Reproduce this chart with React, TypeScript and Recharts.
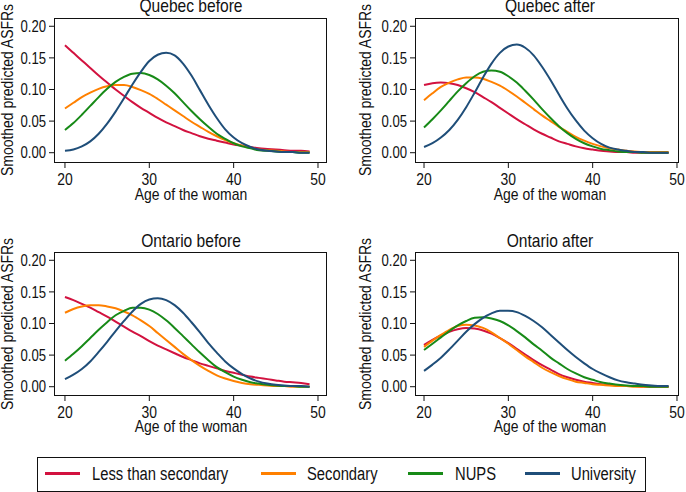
import React from 'react';
import { LineChart, Line, XAxis, YAxis } from 'recharts';

// Age of the woman, one point per year
const AGES = [20, 21, 22, 23, 24, 25, 26, 27, 28, 29, 30, 31, 32, 33, 34, 35, 36, 37, 38, 39, 40, 41, 42, 43, 44, 45, 46, 47, 48, 49];

const X_TICKS = [20, 30, 40, 50];
const Y_TICKS = [0, 0.05, 0.1, 0.15, 0.2];

const SERIES_NAMES = ['Less than secondary', 'Secondary', 'NUPS', 'University'];
const SERIES_COLORS = ['#D2123F', '#FF8000', '#178A17', '#1F4E79'];

// ── Quebec before ──
const QC_BEFORE_LESS = [0.170, 0.158, 0.146, 0.134, 0.122, 0.111, 0.100, 0.090, 0.080, 0.071, 0.063, 0.055, 0.048, 0.042, 0.036, 0.031, 0.026, 0.022, 0.019, 0.016, 0.013, 0.011, 0.009, 0.007, 0.006, 0.005, 0.004, 0.003, 0.003, 0.002];
const QC_BEFORE_SEC = [0.070, 0.079, 0.088, 0.095, 0.101, 0.105, 0.107, 0.107, 0.104, 0.099, 0.093, 0.085, 0.076, 0.067, 0.058, 0.049, 0.041, 0.033, 0.026, 0.020, 0.015, 0.011, 0.008, 0.005, 0.004, 0.003, 0.002, 0.001, 0.001, 0.001];
const QC_BEFORE_NUPS = [0.036, 0.047, 0.060, 0.074, 0.088, 0.101, 0.112, 0.120, 0.125, 0.126, 0.123, 0.116, 0.106, 0.094, 0.080, 0.066, 0.053, 0.041, 0.030, 0.022, 0.015, 0.010, 0.007, 0.004, 0.003, 0.002, 0.001, 0.001, 0.000, 0.000];
const QC_BEFORE_UNIV = [0.003, 0.005, 0.010, 0.018, 0.030, 0.046, 0.065, 0.086, 0.108, 0.128, 0.145, 0.155, 0.158, 0.154, 0.141, 0.122, 0.099, 0.076, 0.055, 0.037, 0.024, 0.015, 0.009, 0.005, 0.003, 0.002, 0.001, 0.001, 0.000, 0.000];

// ── Quebec after ──
const QC_AFTER_LESS = [0.107, 0.110, 0.111, 0.110, 0.107, 0.102, 0.096, 0.088, 0.080, 0.071, 0.062, 0.053, 0.045, 0.037, 0.030, 0.024, 0.018, 0.014, 0.010, 0.007, 0.005, 0.003, 0.002, 0.001, 0.001, 0.000, 0.000, 0.000, 0.000, 0.000];
const QC_AFTER_SEC = [0.083, 0.094, 0.104, 0.111, 0.116, 0.119, 0.119, 0.117, 0.112, 0.106, 0.098, 0.089, 0.079, 0.069, 0.059, 0.050, 0.041, 0.033, 0.025, 0.019, 0.014, 0.010, 0.007, 0.005, 0.003, 0.002, 0.001, 0.001, 0.001, 0.001];
const QC_AFTER_NUPS = [0.040, 0.053, 0.067, 0.082, 0.097, 0.110, 0.121, 0.128, 0.130, 0.128, 0.121, 0.111, 0.098, 0.084, 0.069, 0.055, 0.042, 0.031, 0.022, 0.015, 0.010, 0.006, 0.004, 0.002, 0.001, 0.001, 0.000, 0.000, 0.000, 0.000];
const QC_AFTER_UNIV = [0.009, 0.015, 0.024, 0.036, 0.052, 0.072, 0.095, 0.119, 0.141, 0.158, 0.168, 0.171, 0.166, 0.154, 0.136, 0.115, 0.092, 0.070, 0.051, 0.035, 0.023, 0.014, 0.008, 0.005, 0.003, 0.001, 0.001, 0.000, 0.000, 0.000];

// ── Ontario before ──
const ON_BEFORE_LESS = [0.142, 0.137, 0.131, 0.125, 0.118, 0.111, 0.103, 0.095, 0.087, 0.080, 0.072, 0.065, 0.059, 0.053, 0.047, 0.042, 0.037, 0.033, 0.029, 0.025, 0.022, 0.019, 0.016, 0.014, 0.012, 0.010, 0.008, 0.007, 0.006, 0.004];
const ON_BEFORE_SEC = [0.117, 0.123, 0.127, 0.129, 0.129, 0.127, 0.124, 0.119, 0.113, 0.105, 0.096, 0.085, 0.074, 0.063, 0.052, 0.042, 0.033, 0.025, 0.018, 0.013, 0.009, 0.006, 0.004, 0.003, 0.002, 0.001, 0.001, 0.000, 0.000, 0.000];
const ON_BEFORE_NUPS = [0.041, 0.052, 0.064, 0.077, 0.090, 0.102, 0.113, 0.120, 0.125, 0.125, 0.122, 0.115, 0.105, 0.093, 0.080, 0.067, 0.054, 0.042, 0.031, 0.023, 0.016, 0.011, 0.007, 0.005, 0.003, 0.002, 0.001, 0.001, 0.000, 0.000];
const ON_BEFORE_UNIV = [0.012, 0.019, 0.028, 0.040, 0.055, 0.071, 0.088, 0.104, 0.119, 0.131, 0.138, 0.140, 0.137, 0.129, 0.117, 0.102, 0.086, 0.069, 0.054, 0.040, 0.029, 0.020, 0.013, 0.008, 0.005, 0.003, 0.002, 0.001, 0.001, 0.000];

// ── Ontario after ──
const ON_AFTER_LESS = [0.066, 0.074, 0.081, 0.087, 0.091, 0.093, 0.092, 0.089, 0.084, 0.077, 0.069, 0.060, 0.051, 0.042, 0.034, 0.027, 0.020, 0.015, 0.011, 0.008, 0.006, 0.004, 0.003, 0.002, 0.001, 0.001, 0.000, 0.000, 0.000, 0.000];
const ON_AFTER_SEC = [0.063, 0.073, 0.082, 0.090, 0.096, 0.098, 0.097, 0.093, 0.086, 0.077, 0.068, 0.058, 0.048, 0.039, 0.030, 0.023, 0.017, 0.012, 0.008, 0.006, 0.004, 0.003, 0.002, 0.001, 0.001, 0.000, 0.000, 0.000, 0.000, 0.000];
const ON_AFTER_NUPS = [0.058, 0.068, 0.078, 0.088, 0.097, 0.104, 0.109, 0.110, 0.108, 0.104, 0.097, 0.088, 0.078, 0.067, 0.057, 0.046, 0.037, 0.028, 0.021, 0.015, 0.011, 0.007, 0.005, 0.003, 0.002, 0.001, 0.001, 0.000, 0.000, 0.000];
const ON_AFTER_UNIV = [0.025, 0.035, 0.046, 0.059, 0.073, 0.087, 0.099, 0.109, 0.116, 0.120, 0.120, 0.118, 0.112, 0.104, 0.094, 0.082, 0.070, 0.058, 0.047, 0.037, 0.028, 0.021, 0.015, 0.010, 0.007, 0.005, 0.003, 0.002, 0.001, 0.001];

const FONT = "'Liberation Sans', Arial, sans-serif";
const INK = '#111';
const SQUEEZE = 0.82; // the reference uses a narrow face; squeeze text horizontally
const KEYS = ['less', 'sec', 'nups', 'univ'];

function buildRows(less: number[], sec: number[], nups: number[], univ: number[]) {
  return AGES.map((age, i) => ({ age, less: less[i], sec: sec[i], nups: nups[i], univ: univ[i] }));
}

// ── Narrow tick labels ──
function XTick({ x, y, payload }: any) {
  return (
    <text transform={`translate(${x},${y}) scale(${SQUEEZE},1)`} textAnchor="middle" dy="0.71em"
      fill={INK} fontSize={17}>
      {payload.value}
    </text>
  );
}

function YTick({ x, y, payload }: any) {
  return (
    <text transform={`translate(${x},${y}) scale(${SQUEEZE},1)`} textAnchor="end" dy="0.36em"
      fill={INK} fontSize={16}>
      {Number(payload.value).toFixed(2)}
    </text>
  );
}

interface PanelProps {
  title: string;
  rows: any[];
  left: number;
  top: number;
  height: number;
  col: 0 | 1;
  row: 0 | 1;
}

function Panel({ title, rows, left, top, height, col, row }: PanelProps) {
  const width = 343;
  const margin = { top: row === 0 ? 18 : 32, right: col === 0 ? 17 : 8, bottom: 0, left: 0 };
  const yWidth = col === 0 ? 54 : 72;
  const xHeight = row === 0 ? 58 : 55;
  const xDomain = col === 0 ? [18.7, 50.95] : [18.93, 50.12];
  const yDomain = row === 0 ? [-0.0147, 0.2131] : [-0.0131, 0.2131];

  // plot rectangle in page coords
  const pl = left + margin.left + yWidth;
  const pr = left + width - margin.right;
  const pt = top + margin.top;
  const pb = top + height - margin.bottom - xHeight;

  const textCx = col === 0 ? 191 : 550;
  const titleCy = row === 0 ? 5 : 240;
  const xTitleCy = row === 0 ? 194 : 426;
  const yTitleCx = col === 0 ? 6.5 : 365;

  const center: React.CSSProperties = {
    position: 'absolute', whiteSpace: 'nowrap', lineHeight: 1, color: INK,
    transform: `translate(-50%, -50%) scaleX(${SQUEEZE})`,
  };

  return (
    <>
      <div style={{ position: 'absolute', left, top }}>
        <LineChart width={width} height={height} data={rows} margin={margin}>
          <XAxis
            dataKey="age"
            type="number"
            domain={xDomain}
            allowDataOverflow
            ticks={X_TICKS}
            axisLine={false}
            tickLine={{ stroke: INK }}
            tickSize={6}
            tickMargin={5}
            height={xHeight}
            tick={<XTick />}
          />
          <YAxis
            type="number"
            domain={yDomain}
            allowDataOverflow
            ticks={Y_TICKS}
            axisLine={false}
            tickLine={{ stroke: INK }}
            tickSize={5}
            tickMargin={3}
            width={yWidth}
            tick={<YTick />}
          />
          {KEYS.map((k, i) => (
            <Line
              key={k}
              dataKey={k}
              type="monotone"
              stroke={SERIES_COLORS[i]}
              strokeWidth={2}
              dot={false}
              isAnimationActive={false}
            />
          ))}
        </LineChart>
      </div>
      {/* plot frame */}
      <div style={{
        position: 'absolute', left: pl, top: pt, width: pr - pl + 1, height: pb - pt + 1,
        border: `1px solid ${INK}`, boxSizing: 'border-box', pointerEvents: 'none',
      }} />
      <div style={{ ...center, left: textCx, top: titleCy, fontSize: 19 }}>{title}</div>
      <div style={{ ...center, left: textCx, top: xTitleCy, fontSize: 17 }}>Age of the woman</div>
      <div style={{
        ...center, left: yTitleCx, top: (pt + pb) / 2, fontSize: 17,
        transform: `translate(-50%, -50%) rotate(-90deg) scaleX(${SQUEEZE})`,
      }}>
        Smoothed predicted ASFRs
      </div>
    </>
  );
}

const LEGEND_POS = [
  { line: 45, text: 92 },
  { line: 261, text: 307 },
  { line: 408, text: 455 },
  { line: 525, text: 571 },
];

export default function App() {
  return (
    <div style={{
      position: 'absolute', left: 0, top: 0, width: 686, height: 492,
      background: '#fff', fontFamily: FONT, overflow: 'hidden',
    }}>
      <Panel title="Quebec before" rows={buildRows(QC_BEFORE_LESS, QC_BEFORE_SEC, QC_BEFORE_NUPS, QC_BEFORE_UNIV)}
        left={0} top={0} height={220} col={0} row={0} />
      <Panel title="Quebec after" rows={buildRows(QC_AFTER_LESS, QC_AFTER_SEC, QC_AFTER_NUPS, QC_AFTER_UNIV)}
        left={343} top={0} height={220} col={1} row={0} />
      <Panel title="Ontario before" rows={buildRows(ON_BEFORE_LESS, ON_BEFORE_SEC, ON_BEFORE_NUPS, ON_BEFORE_UNIV)}
        left={0} top={220} height={230} col={0} row={1} />
      <Panel title="Ontario after" rows={buildRows(ON_AFTER_LESS, ON_AFTER_SEC, ON_AFTER_NUPS, ON_AFTER_UNIV)}
        left={343} top={220} height={230} col={1} row={1} />

      {/* legend */}
      <div style={{
        position: 'absolute', left: 37, top: 457, width: 609, height: 35,
        border: `1px solid ${INK}`, boxSizing: 'border-box',
      }} />
      {SERIES_NAMES.map((name, i) => (
        <React.Fragment key={name}>
          <div style={{
            position: 'absolute', left: LEGEND_POS[i].line, top: 472, width: 35, height: 3,
            background: SERIES_COLORS[i],
          }} />
          <div style={{
            position: 'absolute', left: LEGEND_POS[i].text, top: 474,
            transform: `translateY(-50%) scaleX(${SQUEEZE})`, transformOrigin: 'left center',
            fontSize: 18, lineHeight: 1, color: INK, whiteSpace: 'nowrap',
          }}>
            {name}
          </div>
        </React.Fragment>
      ))}
    </div>
  );
}
